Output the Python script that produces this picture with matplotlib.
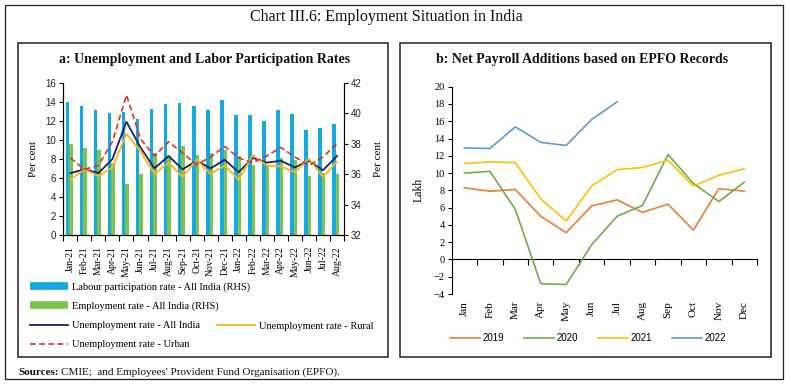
import matplotlib
matplotlib.use("Agg")
import matplotlib.pyplot as plt
import numpy as np
from matplotlib.lines import Line2D
from matplotlib.patches import Rectangle

# ---------------- data ----------------
months_a = ["Jan-21", "Feb-21", "Mar-21", "Apr-21", "May-21", "Jun-21", "Jul-21",
            "Aug-21", "Sep-21", "Oct-21", "Nov-21", "Dec-21", "Jan-22", "Feb-22",
            "Mar-22", "Apr-22", "May-22", "Jun-22", "Jul-22", "Aug-22"]
lpr = [40.72, 40.48, 40.22, 40.0, 40.09, 39.63, 40.26, 40.57, 40.67, 40.46,
       40.24, 40.87, 39.87, 39.91, 39.5, 40.24, 39.93, 38.87, 39.0, 39.26]
emp = [37.98, 37.68, 37.56, 36.75, 35.32, 36.0, 37.4, 37.2, 37.87, 37.28,
       37.4, 37.6, 37.2, 36.6, 36.5, 37.05, 36.95, 35.85, 36.1, 36.0]
ur_all = [6.5, 6.9, 6.5, 7.97, 11.9, 9.2, 7.0, 8.3, 6.9, 7.8,
          7.0, 7.9, 6.6, 8.1, 7.6, 7.8, 7.1, 7.8, 6.8, 8.3]
ur_rural = [5.8, 6.9, 6.2, 7.1, 10.6, 8.8, 6.4, 7.6, 6.1, 7.9,
            6.4, 7.3, 5.8, 8.4, 7.3, 7.2, 6.6, 8.0, 6.1, 7.7]
ur_urban = [8.1, 6.9, 7.3, 9.8, 14.7, 10.1, 8.3, 9.8, 8.6, 7.4,
            8.2, 9.3, 8.1, 7.6, 8.3, 9.2, 8.2, 7.3, 8.2, 9.6]

months_b = ["Jan", "Feb", "Mar", "Apr", "May", "Jun", "Jul", "Aug", "Sep", "Oct", "Nov", "Dec"]
pay_2019 = [8.3, 7.9, 8.1, 5.0, 3.1, 6.2, 6.9, 5.45, 6.4, 3.4, 8.2, 7.9]
pay_2020 = [10.0, 10.2, 5.8, -2.8, -2.9, 1.7, 5.0, 6.25, 12.15, 8.8, 6.7, 8.95]
pay_2021 = [11.1, 11.3, 11.2, 7.0, 4.45, 8.5, 10.4, 10.65, 11.5, 8.5, 9.75, 10.5]
pay_2022 = [12.9, 12.85, 15.35, 13.55, 13.2, 16.2, 18.25]

# ---------------- style ----------------
SERIF = ["Liberation Serif", "DejaVu Serif"]
SANS = ["Liberation Sans", "DejaVu Sans"]
W, H = 790, 391

c_lpr = "#13A9E1"
c_emp = "#80C34B"
c_all = "#1C1E66"
c_rur = "#FDB515"
c_urb = "#E0322E"
c19, c20, c21, c22 = "#ED7D31", "#70AD47", "#FFC000", "#5B9BD5"

fig = plt.figure(figsize=(W / 100, H / 100), dpi=100)


def fx(px):
    return px / W


def fy(py):
    return 1 - py / H


def frame(x0, y0, x1, y1, lw):
    fig.add_artist(Rectangle((fx(x0), fy(y1)), fx(x1) - fx(x0), fy(y0) - fy(y1),
                             transform=fig.transFigure, fill=False, lw=lw, ec="#222222"))


frame(5, 5, 783, 379, 0.9)
frame(18, 42.5, 388, 357, 1.1)
frame(400, 42.5, 771, 357, 1.1)

fig.text(fx(386), fy(17), "Chart III.6: Employment Situation in India", family=SERIF,
         fontsize=11.5, ha="center", va="center", color="#111111")
fig.text(fx(204.5), fy(59), "a: Unemployment and Labor Participation Rates", family=SERIF,
         fontsize=10, weight="bold", ha="center", va="center", color="#111111")
fig.text(fx(581.7), fy(59), "b: Net Payroll Additions based on EPFO Records", family=SERIF,
         fontsize=10, weight="bold", ha="center", va="center", color="#111111")

# ---------------- panel a ----------------
axL = fig.add_axes([fx(63.3), fy(235), fx(344) - fx(63.3), fy(82.7) - fy(235)])
axR = axL.twinx()
axL.set_zorder(axR.get_zorder() + 1)
axL.patch.set_visible(False)

xa = np.arange(len(months_a))
bw = 0.25
axR.bar(xa - 0.08 - bw / 2, lpr, width=bw, color=c_lpr, linewidth=0)
axR.bar(xa - 0.08 + bw / 2, emp, width=bw, color=c_emp, linewidth=0)
axR.set_ylim(32, 42)
axR.set_yticks(np.arange(32, 43, 2))

axL.plot(xa, ur_all, color=c_all, lw=1.3)
axL.plot(xa, ur_rural, color=c_rur, lw=1.3)
axL.plot(xa, ur_urban, color=c_urb, lw=1.2, ls=(0, (3.5, 2)))
axL.set_ylim(0, 16)
axL.set_yticks(np.arange(0, 17, 2))
axL.set_xlim(-0.5, len(months_a) - 0.5)
axL.set_xticks(xa)
axL.set_xticklabels(months_a, rotation=90, family=SERIF, fontsize=7)
axL.set_xticks(np.arange(-0.5, len(months_a)), minor=True)
axL.tick_params(axis="x", which="major", length=0, pad=8)
axL.tick_params(axis="x", which="minor", length=4, width=0.8, direction="out")
for a in (axL, axR):
    a.spines["top"].set_visible(False)
    for s in ("left", "right", "bottom"):
        a.spines[s].set_linewidth(0.8)
axL.tick_params(axis="y", length=3, width=0.8, labelsize=7, pad=2)
axR.tick_params(axis="y", length=3, width=0.8, labelsize=7, pad=2)
for lab in axL.get_yticklabels() + axR.get_yticklabels():
    lab.set_family(SANS)
    lab.set_color("#222222")
axL.set_ylabel("Per cent", family=SERIF, fontsize=8)
axR.set_ylabel("Per cent", family=SERIF, fontsize=8)
axL.yaxis.set_label_coords((37.7 - 63.3) / (344 - 63.3), 0.5)
axR.yaxis.set_label_coords((374 - 63.3) / (344 - 63.3), 0.5)

h_lpr = Line2D([], [], color=c_lpr, lw=5.5, solid_capstyle="butt")
h_emp = Line2D([], [], color=c_emp, lw=5.5, solid_capstyle="butt")
h_all = Line2D([], [], color=c_all, lw=1.3)
h_rur = Line2D([], [], color=c_rur, lw=1.3)
h_urb = Line2D([], [], color=c_urb, lw=1.2, ls=(0, (3.5, 2)))
leg_kw = dict(frameon=False, prop={"family": SERIF, "size": 7.5}, handlelength=3.6,
              handletextpad=0.4, labelspacing=0.95, borderaxespad=0, borderpad=0,
              bbox_transform=fig.transFigure, loc="upper left")
legA = fig.legend([h_lpr, h_emp, h_all, h_urb],
                  ["Labour participation rate - All India (RHS)", "Employment rate - All India (RHS)",
                   "Unemployment rate - All India", "Unemployment rate - Urban"],
                  bbox_to_anchor=(fx(30), fy(282)), **leg_kw)
legB = fig.legend([h_rur], ["Unemployment rate - Rural"],
                  bbox_to_anchor=(fx(217), fy(321.5)), **leg_kw)

# ---------------- panel b ----------------
axb = fig.add_axes([fx(451.7), fy(294), fx(757) - fx(451.7), fy(86.7) - fy(294)])
xb = np.arange(len(months_b)) + 0.5
axb.plot(xb, pay_2019, color=c19, lw=1.2, label="2019")
axb.plot(xb, pay_2020, color=c20, lw=1.2, label="2020")
axb.plot(xb, pay_2021, color=c21, lw=1.2, label="2021")
axb.plot(xb[:len(pay_2022)], pay_2022, color=c22, lw=1.2, label="2022")
ymin, ymax = -4, 20
axb.set_ylim(ymin, ymax)
axb.set_yticks(np.arange(ymin, ymax + 1, 2))
axb.set_xlim(0, len(months_b))
axb.set_xticks(xb)
axb.set_xticklabels(months_b, rotation=90, family=SERIF, fontsize=8)
axb.tick_params(axis="x", length=0, pad=5)
for s in ("top", "right", "bottom"):
    axb.spines[s].set_visible(False)
axb.spines["left"].set_linewidth(0.8)
axb.tick_params(axis="y", length=3, width=0.8, labelsize=7.5, pad=2)
for lab in axb.get_yticklabels():
    lab.set_family(SERIF)
axb.set_ylabel("Lakh", family=SERIF, fontsize=8.5)
axb.yaxis.set_label_coords((425 - 451.7) / (757 - 451.7), 0.5)
zero = axb.secondary_xaxis((0 - ymin) / (ymax - ymin))
zero.set_xticks(np.arange(0, len(months_b) + 1))
zero.tick_params(axis="x", length=4, width=0.8, direction="out", labelbottom=False)
zero.spines["bottom"].set_linewidth(0.8)

fig.legend(*axb.get_legend_handles_labels(), loc="center", ncol=4, frameon=False,
           prop={"family": SANS, "size": 7}, handlelength=3.1, handletextpad=0.3,
           columnspacing=2.0, bbox_to_anchor=(fx(588), fy(338)), bbox_transform=fig.transFigure)

# ---------------- sources ----------------
t1 = fig.text(fx(18), fy(375), "Sources:", family=SERIF, fontsize=8, weight="bold",
              ha="left", va="baseline", color="#111111")
fig.canvas.draw()
bb = t1.get_window_extent()
fig.text(bb.x1 / W + fx(2.5), fy(375), "CMIE;  and Employees' Provident Fund Organisation (EPFO).",
         family=SERIF, fontsize=8, ha="left", va="baseline", color="#111111")

fig.savefig("out.png", dpi=100)
